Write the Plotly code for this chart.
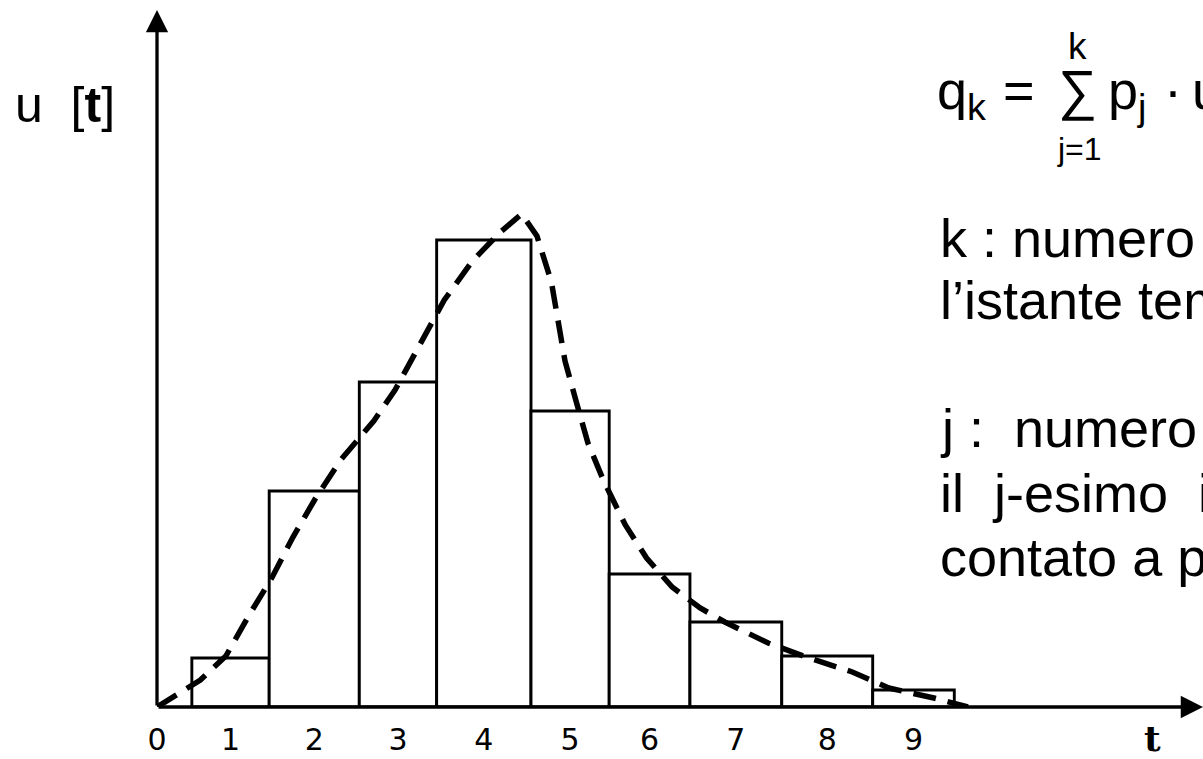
import plotly.graph_objects as go

# Interval boundaries of the discretised unit hydrograph (time units)
edges = [0.41, 1.32, 2.38, 3.29, 4.40, 5.32, 6.27, 7.35, 8.42, 9.38]
# Ordinate u of each interval
u_values = [0.49, 2.16, 3.25, 4.67, 2.96, 1.33, 0.85, 0.51, 0.17]
# Time-axis labels
tick_labels = ["0", "1", "2", "3", "4", "5", "6", "7", "8", "9"]

# Continuous (instantaneous) unit hydrograph, dashed
curve_t = [0.00, 0.18, 0.51, 0.81, 1.07, 1.35, 1.60, 1.86, 2.16, 2.55, 2.80,
           3.09, 3.38, 3.71, 4.04, 4.29, 4.47, 4.64, 4.72, 4.80, 4.93, 5.07,
           5.25, 5.51, 5.76, 6.06, 6.39, 6.68, 7.19, 7.67, 8.18, 8.61, 9.14, 9.54]
curve_u = [0.00, 0.09, 0.27, 0.51, 0.90, 1.29, 1.70, 2.08, 2.47, 2.86, 3.17,
           3.62, 4.07, 4.46, 4.75, 4.93, 4.71, 4.25, 3.85, 3.46, 3.06, 2.64,
           2.27, 1.82, 1.49, 1.20, 0.99, 0.85, 0.64, 0.49, 0.35, 0.19, 0.09, 0.00]

centers = [(a + b) / 2 for a, b in zip(edges[:-1], edges[1:])]
widths = [b - a for a, b in zip(edges[:-1], edges[1:])]
tick_vals = [0.0] + centers

W, H = 1203, 759
ML, MR, MT, MB = 157, 0, 10, 52
X_MAX = (W - ML - MR) / 85.0
Y_MAX = (H - MT - MB) / 100.0

TEXT_FONT = "Liberation Sans, Arial, sans-serif"
NB = "\u00a0"


def px(x):
    return (x - ML) / (W - ML - MR)


def py(y):
    return (H - MB - y) / (H - MT - MB)


def text_on_baseline(x, baseline, text, size, xanchor="left", family=TEXT_FONT):
    """Place a one-line text so that its baseline sits at the given pixel row."""
    top = baseline - 0.905 * size - 3
    return dict(x=px(x), y=py(top), xref="paper", yref="paper",
                xanchor=xanchor, yanchor="top", showarrow=False, align="left",
                text=text, font=dict(family=family, size=size, color="black"))


fig = go.Figure()

fig.add_trace(go.Bar(
    x=centers, y=u_values, width=widths,
    marker=dict(color="white", line=dict(color="black", width=2.9)),
    hoverinfo="skip",
))

fig.add_trace(go.Scatter(
    x=curve_t, y=curve_u, mode="lines",
    line=dict(color="black", width=5.5, dash="23px,12px"),
    hoverinfo="skip",
))

annotations = []

# Axes drawn as arrows
for hx, hy in [(0, Y_MAX), (X_MAX, 0)]:
    annotations.append(dict(x=hx, y=hy, ax=0, ay=0, xref="x", yref="y",
                            axref="x", ayref="y", text="", showarrow=True,
                            arrowhead=2, arrowsize=1.35, arrowwidth=3.3,
                            arrowcolor="black", standoff=0, startstandoff=0))

# Axis titles
annotations.append(text_on_baseline(13, 123, "u" + NB + " [<b>t</b>]", 50))
annotations.append(text_on_baseline(1152, 751, "<b>t</b>", 36, xanchor="center",
                                    family="DejaVu Serif, serif"))

# Convolution formula
annotations.append(text_on_baseline(935, 110, "q<sub>k</sub>", 54))
annotations.append(text_on_baseline(1019, 110, "=", 54, xanchor="center"))
annotations.append(text_on_baseline(1077, 110, "\u2211", 55, xanchor="center"))
annotations.append(text_on_baseline(1077, 60, "k", 37, xanchor="center"))
annotations.append(text_on_baseline(1079, 161, "j=1", 32, xanchor="center"))
annotations.append(text_on_baseline(1106, 110, "p<sub>j</sub>", 54))
annotations.append(text_on_baseline(1173, 110, "\u00b7", 54, xanchor="center"))
annotations.append(text_on_baseline(1190, 110, "u<sub>k\u2212j+1</sub>", 54))

# Meaning of the indices
annotations.append(text_on_baseline(938, 258, "k : numero dell\u2019intervallo che precede", 54))
annotations.append(text_on_baseline(938, 320, "l\u2019istante temporale considerato", 54))
annotations.append(text_on_baseline(938, 448, "j :" + NB + " numero d\u2019ordine dell\u2019impulso", 54))
annotations.append(text_on_baseline(938, 513, "il" + NB + " j-esimo" + NB + " impulso di pioggia,", 54))
annotations.append(text_on_baseline(938, 577, "contato a partire dall\u2019inizio", 54))

fig.update_layout(
    width=W, height=H,
    margin=dict(l=ML, r=MR, t=MT, b=MB),
    paper_bgcolor="white", plot_bgcolor="white",
    showlegend=False,
    annotations=annotations,
    xaxis=dict(range=[0, X_MAX], showgrid=False, zeroline=False, showline=False,
               tickmode="array", tickvals=tick_vals, ticktext=tick_labels,
               ticks="", ticklabelstandoff=12,
               tickfont=dict(family="DejaVu Sans, sans-serif", size=30, color="black")),
    yaxis=dict(range=[0, Y_MAX], showgrid=False, zeroline=False, showline=False,
               showticklabels=False, ticks=""),
)

fig.write_html("out.html")
